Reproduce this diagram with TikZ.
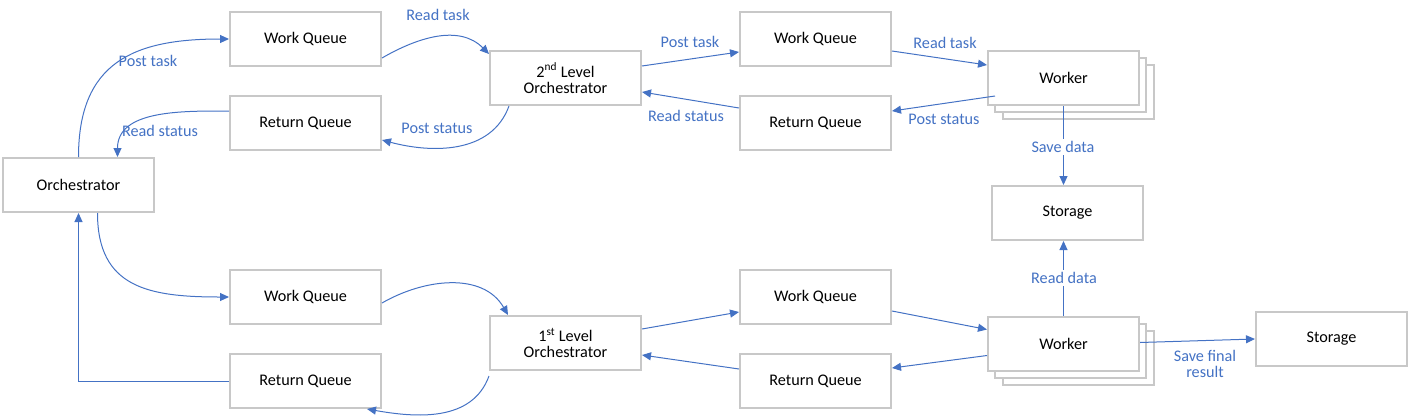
\documentclass[tikz,border=0pt]{standalone}
\usepackage{fontspec}
\setmainfont{Carlito}
\usetikzlibrary{calc,arrows.meta}
\definecolor{boxgray}{RGB}{200,200,200}
\definecolor{linkblue}{RGB}{68,114,196}
\tikzset{
  box/.style={draw=boxgray, line width=2pt, fill=white, minimum width=151pt, minimum height=54pt, inner sep=0pt, align=center, font=\fontsize{16.2}{18}\selectfont},
  link/.style={draw=linkblue, line width=1pt, -{Triangle[length=9pt,width=8pt]}},
  lbl/.style={text=linkblue, font=\fontsize{16.2}{18}\selectfont, inner sep=1pt, align=center},
  lblw/.style={lbl, fill=white, inner sep=2pt}
}
\begin{document}
\begin{tikzpicture}[x=1pt,y=-1pt]
\useasboundingbox (0,0) rectangle (1410,418);
% boxes
\node[box] (orch) at (78.5,185) {Orchestrator};
\node[box] (wqTL) at (305.5,39) {Work Queue};
\node[box] (rqTL) at (305.5,123) {Return Queue};
\node[box] (o2) at (565.5,78) {2\textsuperscript{nd} Level\\[-2pt]Orchestrator};
\node[box] (wqTR) at (815.5,39) {Work Queue};
\node[box] (rqTR) at (815.5,123) {Return Queue};
\node[box] (workerTb2) at (1078.5,92) {};
\node[box] (workerTb1) at (1070.5,85) {};
\node[box] (workerT) at (1063.5,78) {Worker};
\node[box] (storT) at (1067.5,213) {Storage};
\node[box] (wqBL) at (305.5,297) {Work Queue};
\node[box] (rqBL) at (305.5,381) {Return Queue};
\node[box] (o1) at (565.5,343) {1\textsuperscript{st} Level\\[-2pt]Orchestrator};
\node[box] (wqBR) at (815.5,297) {Work Queue};
\node[box] (rqBR) at (815.5,381) {Return Queue};
\node[box] (workerBb2) at (1078.5,357.5) {};
\node[box] (workerBb1) at (1070.5,350.5) {};
\node[box] (workerB) at (1063.5,343.5) {Worker};
\node[box] (storR) at (1331.5,339) {Storage};
% connectors top
\draw[link] (orch.north) .. controls ([yshift=95pt]orch.north) and ([xshift=-95pt]wqTL.west) .. (wqTL.west);
\draw[link] ([yshift=12pt]rqTL.west) to[out=180,in=90] ([xshift=39pt]orch.north);
\draw[link] ([yshift=-19pt]wqTL.east) to[out=30,in=135] ([yshift=-4pt]o2.north west);
\draw[link] ([xshift=20pt]o2.south west) to[out=-110,in=-15] ([yshift=-17pt]rqTL.east);
\draw[link] ([yshift=12pt]o2.east) -- ([yshift=-13pt]wqTR.west);
\draw[link] ([yshift=15pt]rqTR.west) -- ([yshift=-14pt]o2.east);
\draw[link] ([yshift=-12pt]wqTR.east) -- ([yshift=13pt]workerT.west);
\draw[link] ([xshift=8pt,yshift=-18pt]workerT.west) -- ([yshift=12pt]rqTR.east);
\draw[link] (workerT.south) -- (workerT.south |- storT.north);
% connectors bottom
\draw[link] ([xshift=19pt]orch.south) .. controls ([xshift=19pt,yshift=-75pt]orch.south) and ([xshift=-80pt]wqBL.west) .. (wqBL.west);
\draw[link] (rqBL.west) -| (orch.south);
\draw[link] ([yshift=-6pt]wqBL.east) to[out=30,in=120] ([xshift=19pt]o1.north west);
\draw[link] ([yshift=-5pt]o1.south west) to[out=-110,in=-10] ([xshift=-15pt]rqBL.south east);
\draw[link] ([yshift=14pt]o1.east) -- ([yshift=-15pt]wqBR.west);
\draw[link] ([yshift=12pt]rqBR.west) -- ([yshift=-12pt]o1.east);
\draw[link] ([yshift=-14pt]wqBR.east) -- ([yshift=14pt]workerB.west);
\draw[link] ([yshift=-12pt]workerB.west) -- ([yshift=13pt]rqBR.east);
\draw[link] (workerB.north) -- (workerB.north |- storT.south);
\draw[link] ([yshift=1pt]workerB.east) -- (storR.west);
% labels
\node[lbl] (l1) at (148,61) {Post task};
\node[lbl] (l2) at (160,131) {Read status};
\node[lbl] (l3) at (438,15) {Read task};
\node[lbl] (l4) at (437,128) {Post status};
\node[lbl] (l5) at (690,42) {Post task};
\node[lbl] (l6) at (686,116) {Read status};
\node[lbl] (l7) at (945,43) {Read task};
\node[lbl] (l8) at (944,119) {Post status};
\node[lblw] (l9) at (1063,147) {Save data};
\node[lblw] (l10) at (1064,278) {Read data};
\node[lbl] (l11) at (1205,364) {Save final\\[-2pt]result};
\end{tikzpicture}
\end{document}
